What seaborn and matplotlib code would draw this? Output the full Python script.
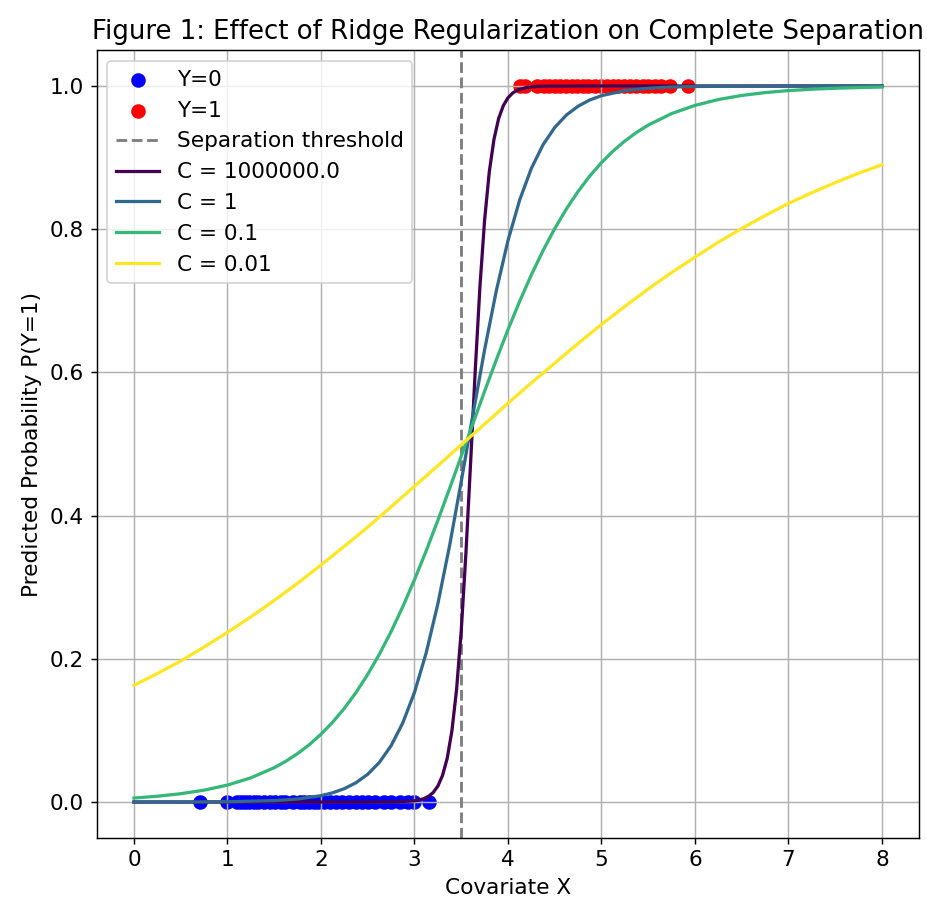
import numpy as np
import pandas as pd
import matplotlib
matplotlib.use('Agg')
import matplotlib.pyplot as plt
import seaborn as sns

x_y0 = [0.71, 1.00, 1.10, 1.14, 1.19, 1.23, 1.28, 1.33, 1.39, 1.45, 1.51, 1.57,
        1.62, 1.70, 1.78, 1.82, 1.87, 1.92, 1.97, 2.03, 2.10, 2.16, 2.22, 2.30,
        2.37, 2.44, 2.50, 2.58, 2.67, 2.75, 2.85, 2.93, 3.00, 3.15]
x_y1 = [4.13, 4.18, 4.31, 4.38, 4.44, 4.50, 4.56, 4.62, 4.68, 4.74, 4.80, 4.86,
        4.93, 5.00, 5.06, 5.12, 5.18, 5.24, 5.30, 5.37, 5.44, 5.50, 5.57, 5.64,
        5.73, 5.92]

threshold = 3.5

# fitted curves
x_c1e6 = [0.0, 1.0, 2.0, 2.5, 2.8, 3.0, 3.05, 3.1, 3.15, 3.2, 3.25, 3.3, 3.35, 3.4,
          3.45, 3.5, 3.55, 3.6, 3.65, 3.7, 3.75, 3.8, 3.85, 3.9, 3.95, 4.0, 4.05,
          4.1, 4.2, 4.3, 4.4, 5.0, 6.0, 8.0]
p_c1e6 = [0.0, 0.0, 0.0, 0.0, 0.0002, 0.0017, 0.0028, 0.0047, 0.0079, 0.0133,
          0.0223, 0.0372, 0.0612, 0.0993, 0.1571, 0.2396, 0.3475, 0.4738, 0.6035,
          0.7201, 0.8131, 0.8803, 0.9255, 0.9546, 0.9726, 0.9836, 0.9902, 0.9942,
          0.9980, 0.9993, 0.9998, 1.0, 1.0, 1.0]

x_c1 = [0.0, 0.5, 1.0, 1.5, 1.75, 2.0, 2.125, 2.25, 2.375, 2.5, 2.625, 2.75, 2.875,
        3.0, 3.125, 3.25, 3.375, 3.5, 3.625, 3.75, 3.875, 4.0, 4.125, 4.25, 4.375,
        4.5, 4.625, 4.75, 4.875, 5.0, 5.25, 5.5, 5.75, 6.0, 6.5, 7.0, 8.0]
p_c1 = [0.0, 0.0001, 0.0004, 0.0020, 0.0042, 0.0089, 0.0129, 0.0187, 0.0270,
        0.0388, 0.0555, 0.0787, 0.1106, 0.1532, 0.2083, 0.2769, 0.3578, 0.4477,
        0.5412, 0.6318, 0.7140, 0.7842, 0.8409, 0.8850, 0.9180, 0.9421, 0.9595,
        0.9718, 0.9805, 0.9865, 0.9936, 0.9969, 0.9986, 0.9993, 0.9998, 1.0, 1.0]

x_c01 = [0.0, 0.25, 0.5, 0.75, 1.0, 1.25, 1.5, 1.625, 1.75, 1.875, 2.0, 2.125, 2.25,
         2.375, 2.5, 2.625, 2.75, 2.875, 3.0, 3.125, 3.25, 3.375, 3.5, 3.625, 3.75,
         3.875, 4.0, 4.125, 4.25, 4.375, 4.5, 4.625, 4.75, 4.875, 5.0, 5.125, 5.25,
         5.375, 5.5, 5.75, 6.0, 6.25, 6.5, 6.75, 7.0, 7.25, 7.5, 7.75, 8.0]
p_c01 = [0.0056, 0.0081, 0.0116, 0.0166, 0.0237, 0.0338, 0.0480, 0.0570, 0.0677,
         0.0801, 0.0947, 0.1115, 0.1309, 0.1531, 0.1783, 0.2066, 0.2381, 0.2728,
         0.3105, 0.3508, 0.3934, 0.4377, 0.4830, 0.5286, 0.5737, 0.6176, 0.6597,
         0.6994, 0.7363, 0.7702, 0.8009, 0.8284, 0.8528, 0.8743, 0.8930, 0.9093,
         0.9232, 0.9352, 0.9454, 0.9615, 0.9729, 0.9811, 0.9868, 0.9908, 0.9936,
         0.9955, 0.9969, 0.9978, 0.9985]

x_c001 = [0.0, 0.25, 0.5, 0.75, 1.0, 1.25, 1.5, 1.75, 2.0, 2.25, 2.5, 2.75, 3.0, 3.25,
          3.5, 3.75, 4.0, 4.25, 4.5, 4.75, 5.0, 5.25, 5.5, 5.75, 6.0, 6.25, 6.5,
          6.75, 7.0, 7.25, 7.5, 7.75, 8.0]
p_c001 = [0.163, 0.1795, 0.197, 0.2165, 0.237, 0.2586, 0.2815, 0.3056, 0.331,
          0.3572, 0.384, 0.4123, 0.441, 0.4697, 0.499, 0.5278, 0.557, 0.5853,
          0.613, 0.6405, 0.667, 0.6922, 0.7165, 0.7395, 0.761, 0.7819, 0.801,
          0.8190, 0.836, 0.8510, 0.865, 0.8782, 0.890]

c_labels = ['C = 1000000.0', 'C = 1', 'C = 0.1', 'C = 0.01']
c_colors = ['#440154', '#31688e', '#35b779', '#fde725']

curves = [(x_c1e6, p_c1e6), (x_c1, p_c1), (x_c01, p_c01), (x_c001, p_c001)]

plt.rcParams['font.size'] = 12
plt.rcParams['axes.titlesize'] = 14.4

fig = plt.figure(figsize=(927/130, 921/130), dpi=130)
ax = fig.add_subplot(111)

sns.scatterplot(x=x_y0, y=[0]*len(x_y0), color='blue', s=65, linewidth=0, label='Y=0', ax=ax)
sns.scatterplot(x=x_y1, y=[1]*len(x_y1), color='red', s=65, linewidth=0, label='Y=1', ax=ax)
ax.axvline(threshold, color='gray', linestyle='--', linewidth=1.6, label='Separation threshold')

for (xs, ps), lab, col in zip(curves, c_labels, c_colors):
    df = pd.DataFrame({'x': xs, 'p': ps})
    sns.lineplot(data=df, x='x', y='p', color=col, linewidth=1.8, label=lab, ax=ax,
                 errorbar=None, sort=False)

ax.set_xlabel('Covariate X')
ax.set_ylabel('Predicted Probability P(Y=1)')
ax.set_title('Figure 1: Effect of Ridge Regularization on Complete Separation')
ax.set_xticks(range(0, 9))
ax.grid(True)
ax.legend(loc='upper left')

fig.subplots_adjust(left=0.1042, right=0.9918, bottom=0.0903, top=0.9455)
fig.savefig('out.png', dpi=130)
